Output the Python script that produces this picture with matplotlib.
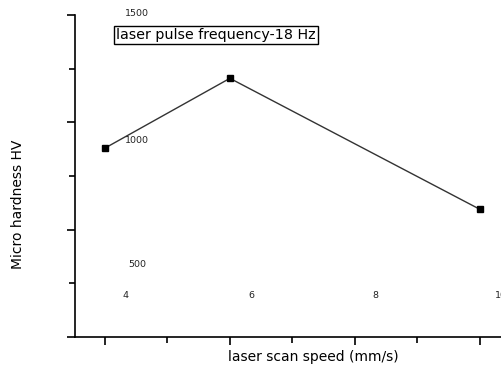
import matplotlib
matplotlib.use('Agg')
import matplotlib.pyplot as plt
from matplotlib.ticker import MultipleLocator

plt.rcParams['font.family'] = ['DejaVu Sans']

# data
scan_speed = [4, 6, 10]
hardness = [880, 1205, 595]

y_tick_vals = [1500, 1000, 500]
y_tick_shift = [2, -18, -35]   # labels sit oddly inside the plot in the original
x_tick_vals = [4, 6, 8, 10]

fig = plt.figure(figsize=(5.02, 3.66), dpi=100)
ax = fig.add_axes([75/502, 1 - 337/366, 436/502, 322/366])

ax.plot(scan_speed, hardness, color='#333333', lw=1.0, marker='s',
        ms=5, mfc='black', mec='black')

ax.set_xlim(3.52, 10.5)
ax.set_ylim(0, 1500)

ax.spines['top'].set_visible(False)
ax.spines['right'].set_visible(False)
ax.spines['left'].set_linewidth(1.2)
ax.spines['bottom'].set_linewidth(1.2)

ax.xaxis.set_major_locator(MultipleLocator(2))
ax.xaxis.set_minor_locator(MultipleLocator(1))
ax.yaxis.set_major_locator(MultipleLocator(500))
ax.yaxis.set_minor_locator(MultipleLocator(250))
ax.tick_params(which='major', length=6, width=1.2, direction='out')
ax.tick_params(which='minor', length=4, width=1.2, direction='out')
ax.tick_params(labelbottom=False, labelleft=False)

# tick labels drawn inside the frame like the source image
for v, dy in zip(y_tick_vals, y_tick_shift):
    ax.annotate(str(v), xy=(0, v), xycoords=ax.get_yaxis_transform(),
                xytext=(62, dy), textcoords='offset pixels',
                ha='center', va='center', fontsize=6.8, color='#222222')
for v in x_tick_vals:
    ax.annotate(str(v), xy=(v, 0), xycoords=ax.get_xaxis_transform(),
                xytext=(21, 42), textcoords='offset pixels',
                ha='center', va='center', fontsize=6.8, color='#222222')

fig.text(18/502, 1 - 204/366, 'Micro hardness HV', rotation=90,
         ha='center', va='center', fontsize=10)
fig.text(313/502, 1 - 357/366, 'laser scan speed (mm/s)',
         ha='center', va='center', fontsize=10)

fig.text(216/502, 1 - 35/366, 'laser pulse frequency-18 Hz',
         ha='center', va='center', fontsize=10.3,
         bbox=dict(boxstyle='square,pad=0.12', fc='white', ec='black', lw=1))

fig.savefig('out.png', dpi=100)
